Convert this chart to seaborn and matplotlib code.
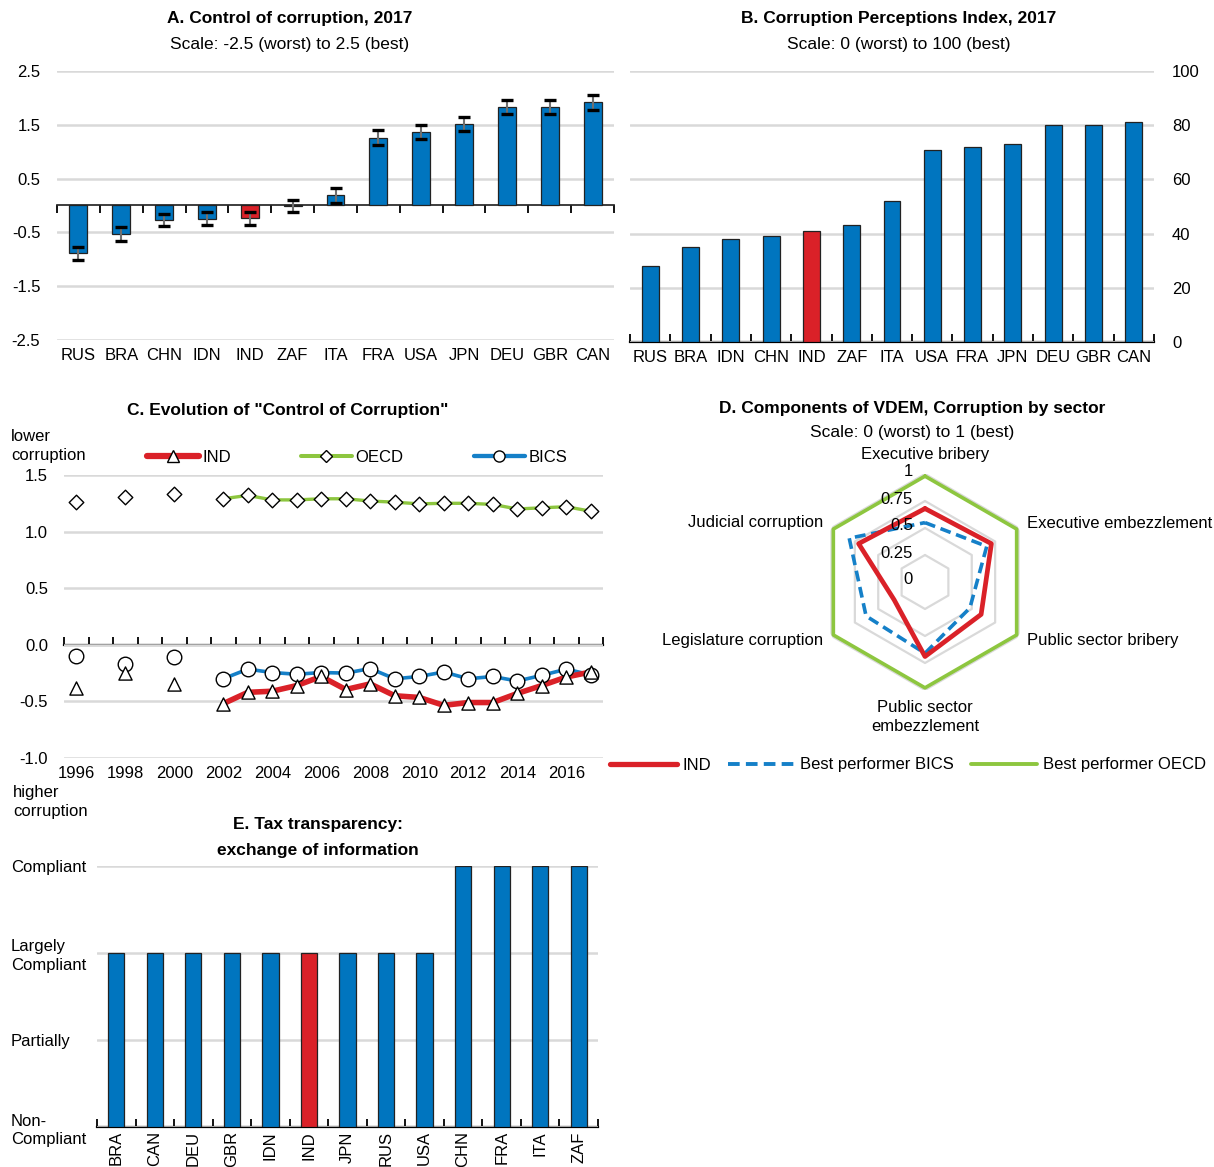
import numpy as np
import pandas as pd
import matplotlib
matplotlib.use("Agg")
import matplotlib.pyplot as plt
import matplotlib.transforms as mtrans
from matplotlib import font_manager
from matplotlib.lines import Line2D
import seaborn as sns

# ---- data ----
cc_countries = ["RUS", "BRA", "CHN", "IDN", "IND", "ZAF", "ITA", "FRA", "USA", "JPN", "DEU", "GBR", "CAN"]
cc_values = [-0.89, -0.53, -0.27, -0.25, -0.24, -0.01, 0.19, 1.26, 1.37, 1.52, 1.84, 1.84, 1.92]
cc_errors = [0.12, 0.13, 0.12, 0.12, 0.12, 0.12, 0.14, 0.14, 0.13, 0.13, 0.13, 0.13, 0.14]

cpi_countries = ["RUS", "BRA", "IDN", "CHN", "IND", "ZAF", "ITA", "USA", "FRA", "JPN", "DEU", "GBR", "CAN"]
cpi_values = [28, 35, 38, 39, 41, 43, 52, 71, 72, 73, 80, 80, 81]

years = [1996, 1998, 2000, 2002, 2003, 2004, 2005, 2006, 2007, 2008, 2009, 2010,
         2011, 2012, 2013, 2014, 2015, 2016, 2017]
ind_cc = [-0.38, -0.25, -0.345, -0.52, -0.42, -0.41, -0.36, -0.28, -0.395, -0.345, -0.45,
          -0.465, -0.535, -0.51, -0.51, -0.43, -0.36, -0.285, -0.24]
oecd_cc = [1.26, 1.31, 1.33, 1.29, 1.32, 1.28, 1.28, 1.29, 1.29, 1.27, 1.26,
           1.245, 1.25, 1.25, 1.24, 1.20, 1.21, 1.22, 1.18]
bics_cc = [-0.10, -0.17, -0.11, -0.30, -0.215, -0.245, -0.26, -0.245, -0.25, -0.21, -0.30,
           -0.28, -0.24, -0.30, -0.28, -0.32, -0.27, -0.215, -0.265]

vdem_components = ["Executive bribery", "Executive embezzlement", "Public sector bribery",
                   "Public sector\nembezzlement", "Legislature corruption", "Judicial corruption"]
vdem_ind = [0.68, 0.71, 0.60, 0.69, 0.33, 0.71]
vdem_bics = [0.55, 0.66, 0.48, 0.66, 0.63, 0.81]
vdem_oecd = [0.98, 0.98, 0.98, 0.98, 0.98, 0.98]

tax_countries = ["BRA", "CAN", "DEU", "GBR", "IDN", "IND", "JPN", "RUS", "USA", "CHN", "FRA", "ITA", "ZAF"]
tax_values = [2, 2, 2, 2, 2, 2, 2, 2, 2, 3, 3, 3, 3]
tax_levels = ["Non-\nCompliant", "Partially", "Largely\nCompliant", "Compliant"]

# ---- style ----
BLUE = "#0075BF"
RED = "#DA2128"
GREEN = "#8DC63F"
LBLUE = "#1580C8"
GRID = "#D9D9D9"

sns.set_theme(style="white")
names = {f.name for f in font_manager.fontManager.ttflist}
fam = "Liberation Sans Narrow" if "Liberation Sans Narrow" in names else "Liberation Sans"
plt.rcParams["font.family"] = [fam, "DejaVu Sans"]
FS = 12
plt.rcParams["font.size"] = FS
plt.rcParams["text.color"] = "black"
plt.rcParams["xtick.color"] = "black"
plt.rcParams["ytick.color"] = "black"

W, H = 1214, 1167
fig = plt.figure(figsize=(W / 100, H / 100), dpi=100)
fig.patch.set_facecolor("white")


def rect(l, t, r, b):
    return [l / W, 1 - b / H, (r - l) / W, (b - t) / H]


def ftext(x, y, s, **kw):
    fig.text(x / W, 1 - y / H, s, **kw)


def base_style(ax):
    for sp in ax.spines.values():
        sp.set_visible(False)
    ax.set_facecolor("white")
    ax.yaxis.grid(True, color=GRID, lw=1.8)
    ax.set_axisbelow(True)
    ax.set_xlabel("")
    ax.set_ylabel("")


def zero_axis(ax, loc, ticks):
    sec = ax.secondary_xaxis(loc)
    sec.set_xticks(ticks)
    sec.set_xticklabels([])
    sec.tick_params(direction="in", length=6, width=1.3, color="black")
    sec.spines["bottom"].set_linewidth(1.6)
    sec.spines["bottom"].set_color("black")
    return sec


# ---- A: control of corruption ----
axa = fig.add_axes(rect(57, 71, 614, 340))
cols_a = [RED if c == "IND" else BLUE for c in cc_countries]
sns.barplot(x=cc_countries, y=cc_values, hue=cc_countries, palette=cols_a, legend=False, saturation=1,
            width=0.42, edgecolor="#222222", linewidth=0.9, ax=axa)
eb = axa.errorbar(np.arange(len(cc_countries)), cc_values, yerr=cc_errors, fmt="none",
                  ecolor="#707070", elinewidth=1.5, capsize=4.5, capthick=2.4)
for cap in eb[1]:
    cap.set_markeredgecolor("black")
base_style(axa)
axa.set_ylim(-2.5, 2.5)
axa.set_yticks([-2.5, -1.5, -0.5, 0.5, 1.5, 2.5])
axa.set_yticklabels(["-2.5", "-1.5", "-0.5", "0.5", "1.5", "2.5"])
axa.set_xlim(-0.5, len(cc_countries) - 0.5)
axa.tick_params(axis="y", length=0, pad=12, labelsize=FS)
axa.tick_params(axis="x", length=0, pad=6, labelsize=FS)
zero_axis(axa, 0.5, np.arange(len(cc_countries) + 1) - 0.5)
ftext(290, 19, "A. Control of corruption, 2017", ha="center", va="center", fontweight="bold", fontsize=FS + 0.5)
ftext(290, 45, "Scale: -2.5 (worst) to 2.5 (best)", ha="center", va="center", fontsize=FS + 0.5)

# ---- B: CPI ----
axb = fig.add_axes(rect(630, 71, 1154, 342))
cols_b = [RED if c == "IND" else BLUE for c in cpi_countries]
sns.barplot(x=cpi_countries, y=cpi_values, hue=cpi_countries, palette=cols_b, legend=False, saturation=1,
            width=0.42, edgecolor="#222222", linewidth=0.9, ax=axb)
base_style(axb)
axb.set_ylim(0, 100)
axb.set_yticks([0, 20, 40, 60, 80, 100])
axb.yaxis.tick_right()
axb.set_xlim(-0.5, len(cpi_countries) - 0.5)
axb.tick_params(axis="y", length=0, pad=13, labelsize=FS)
axb.tick_params(axis="x", length=0, pad=6, labelsize=FS)
zero_axis(axb, 0.0, np.arange(len(cpi_countries) + 1) - 0.5)
ftext(899, 19, "B. Corruption Perceptions Index, 2017", ha="center", va="center", fontweight="bold", fontsize=FS + 0.5)
ftext(899, 45, "Scale: 0 (worst) to 100 (best)", ha="center", va="center", fontsize=FS + 0.5)

# ---- C: evolution ----
axc = fig.add_axes(rect(64, 475, 603, 758))
n = len(years)
df = pd.DataFrame({
    "year": years * 3,
    "value": ind_cc + oecd_cc + bics_cc,
    "series": ["IND"] * n + ["OECD"] * n + ["BICS"] * n,
})
pal_c = {"IND": RED, "OECD": GREEN, "BICS": LBLUE}
lw_c = {"IND": 4.0, "OECD": 2.4, "BICS": 2.6}
mk_c = {"IND": "^", "OECD": "D", "BICS": "o"}
ms_c = {"IND": 90, "OECD": 55, "BICS": 110}
for s in ["OECD", "BICS", "IND"]:
    sub = df[(df.series == s) & (df.year >= 2002)]
    sns.lineplot(data=sub, x="year", y="value", color=pal_c[s], lw=lw_c[s], ax=axc, zorder=2)
for s in ["OECD", "BICS", "IND"]:
    sub = df[df.series == s]
    sns.scatterplot(data=sub, x="year", y="value", marker=mk_c[s], s=ms_c[s], color="white",
                    edgecolor="black", linewidth=1.0, ax=axc, zorder=3, legend=False)
base_style(axc)
axc.set_xlim(1995.5, 2017.5)
axc.set_ylim(-1.0, 1.5)
axc.set_yticks([-1.0, -0.5, 0.0, 0.5, 1.0, 1.5])
axc.set_yticklabels(["-1.0", "-0.5", "0.0", "0.5", "1.0", "1.5"])
axc.set_xticks(list(range(1996, 2017, 2)))
axc.tick_params(axis="y", length=0, pad=11.5, labelsize=FS)
axc.tick_params(axis="x", length=0, pad=6, labelsize=FS)
zero_axis(axc, 0.4, np.arange(1995.5, 2018, 1.0))
handles_c = [Line2D([], [], color=pal_c[s], lw=lw_c[s] + 0.5, marker=mk_c[s], markersize=8 if s != "OECD" else 6,
                    markerfacecolor="white", markeredgecolor="black") for s in ["IND", "OECD", "BICS"]]
fig.legend(handles_c, ["IND", "OECD", "BICS"], loc="center left", bbox_to_anchor=(132 / W, 1 - 457 / H),
           ncol=3, frameon=False, handlelength=3.1, handletextpad=0.2, columnspacing=4.2, fontsize=FS)
ftext(288, 410, 'C. Evolution of "Control of Corruption"', ha="center", va="center", fontweight="bold", fontsize=FS + 0.5)
ftext(11, 446, "lower\ncorruption", ha="left", va="center", fontsize=FS, linespacing=1.3)
ftext(13, 802, "higher\ncorruption", ha="left", va="center", fontsize=FS, linespacing=1.3)

# ---- D: VDEM radar ----
cx, cy, R = 925, 582, 108
axd = fig.add_axes([(cx - R) / W, 1 - (cy + R) / H, 2 * R / W, 2 * R / H], projection="polar")
axd.set_theta_zero_location("N")
axd.set_theta_direction(-1)
theta = np.deg2rad(np.arange(len(vdem_components)) * 60.0)
theta_c = np.append(theta, 2 * np.pi)
for lvl in [0.25, 0.5, 0.75, 1.0]:
    axd.plot(theta_c, [lvl] * len(theta_c), color=GRID, lw=1.6, zorder=0)
sns.lineplot(x=theta_c, y=vdem_oecd + vdem_oecd[:1], color=GREEN, lw=2.6, sort=False, ax=axd, zorder=2)
sns.lineplot(x=theta_c, y=vdem_bics + vdem_bics[:1], color=LBLUE, lw=2.6, sort=False, ax=axd, zorder=3,
             linestyle=(0, (3, 1.6)))
sns.lineplot(x=theta_c, y=vdem_ind + vdem_ind[:1], color=RED, lw=3.4, sort=False, ax=axd, zorder=4)
axd.set_ylim(0, 1)
axd.grid(False)
axd.spines["polar"].set_visible(False)
axd.set_xticks([])
axd.set_yticks([])
axd.set_xlabel("")
axd.set_ylabel("")
axd.patch.set_alpha(0)
off = lambda dx, dy: mtrans.offset_copy(axd.transData, fig=fig, x=dx, y=dy, units="dots")
for lvl, lab in zip([0.0, 0.25, 0.5, 0.75, 1.0], ["0", "0.25", "0.5", "0.75", "1"]):
    axd.text(0, lvl, lab, ha="right", va="center", fontsize=FS, transform=off(-12, 2), zorder=5)
lab_pos = [(0, 12, "center", "bottom"), (8, 5, "left", "center"), (8, -5, "left", "center"),
           (0, -10, "center", "top"), (-8, -5, "right", "center"), (-8, 5, "right", "center")]
for th, name, (dx, dy, ha, va) in zip(theta, vdem_components, lab_pos):
    axd.text(th, 1.0, name, ha=ha, va=va, fontsize=FS, transform=off(dx, dy), linespacing=1.3,
             multialignment="center")
handles_d = [Line2D([], [], color=RED, lw=3.8),
             Line2D([], [], color=LBLUE, lw=2.8, linestyle=(0, (3, 1.6))),
             Line2D([], [], color=GREEN, lw=2.8)]
fig.legend(handles_d, ["IND", "Best performer BICS", "Best performer OECD"], loc="center",
           bbox_to_anchor=(908 / W, 1 - 765 / H), ncol=3, frameon=False, handlelength=4.0,
           handletextpad=0.35, columnspacing=1.0, fontsize=FS)
ftext(912, 408, "D. Components of VDEM, Corruption by sector", ha="center", va="center",
      fontweight="bold", fontsize=FS + 0.5)
ftext(912, 433, "Scale: 0 (worst) to 1 (best)", ha="center", va="center", fontsize=FS + 0.5)

# ---- E: tax transparency ----
axe = fig.add_axes(rect(97, 866, 598, 1127))
cols_e = [RED if c == "IND" else BLUE for c in tax_countries]
sns.barplot(x=tax_countries, y=tax_values, hue=tax_countries, palette=cols_e, legend=False, saturation=1,
            width=0.42, edgecolor="#222222", linewidth=0.9, ax=axe)
base_style(axe)
axe.set_ylim(0, 3)
axe.set_yticks([0, 1, 2, 3])
axe.set_yticklabels(tax_levels, ha="left", linespacing=1.3)
axe.set_xlim(-0.5, len(tax_countries) - 0.5)
axe.tick_params(axis="y", length=0, pad=62, labelsize=FS)
axe.tick_params(axis="x", length=0, pad=3, labelsize=FS, labelrotation=90)
zero_axis(axe, 0.0, np.arange(len(tax_countries) + 1) - 0.5)
ftext(318, 825, "E. Tax transparency:", ha="center", va="center", fontweight="bold", fontsize=FS + 0.5)
ftext(318, 850, "exchange of information", ha="center", va="center", fontweight="bold", fontsize=FS + 0.5)

fig.savefig("out.png", dpi=100, facecolor="white")
